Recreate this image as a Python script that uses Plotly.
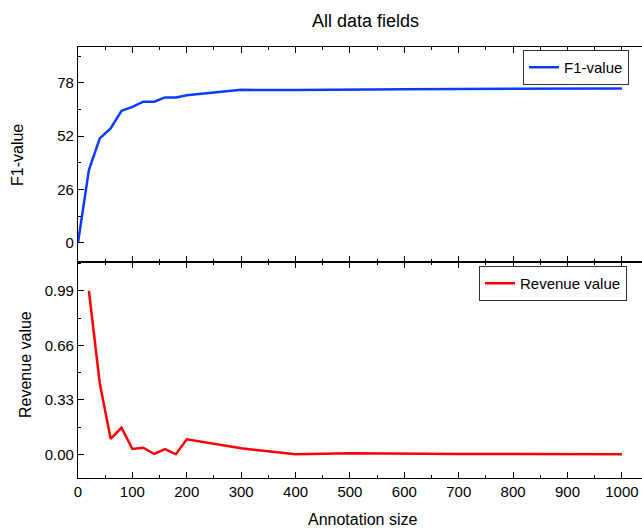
import plotly.graph_objects as go

# annotation sizes and results
f1_size = [0, 20, 40, 60, 80, 100, 120, 140, 160, 180, 200, 300, 400, 500, 600, 700, 800, 900, 1000]
f1_value = [0, 35.5, 50.9, 55.8, 64.4, 66.3, 68.8, 68.8, 70.9, 70.9, 72.0, 74.6, 74.5, 74.8, 74.9, 75.0, 75.2, 75.3, 75.3]

rev_size = [20, 40, 60, 80, 100, 120, 140, 160, 180, 200, 300, 400, 500, 600, 700, 800, 900, 1000]
rev_value = [0.99, 0.43, 0.094, 0.161, 0.032, 0.04, 0.002, 0.032, 0.0, 0.091, 0.036, 0.0, 0.007, 0.003, 0.002, 0.002, 0.001, 0.0]

x_ticks = list(range(0, 1001, 100))

W, H = 642, 528
font = "Arial, Liberation Sans, sans-serif"

fig = go.Figure()
fig.add_trace(go.Scatter(x=f1_size, y=f1_value, mode="lines", name="F1-value",
                         line=dict(color="#0a3cff", width=2.5),
                         xaxis="x", yaxis="y", legend="legend"))
fig.add_trace(go.Scatter(x=rev_size, y=rev_value, mode="lines", name="Revenue value",
                         line=dict(color="#ff0000", width=2.5),
                         xaxis="x2", yaxis="y2", legend="legend2"))

axis_common = dict(showline=True, linecolor="black", linewidth=1.3, ticks="inside",
                   ticklen=6, tickwidth=1.3, tickcolor="black", showgrid=False,
                   zeroline=False, automargin=False,
                   tickfont=dict(family=font, size=15, color="black"))

xdom = [78 / W, 1]
top_dom = [1 - 262 / H, 1 - 47 / H]
bot_dom = [1 - 478 / H, 1 - 262 / H]


def label(text, x, y, size, angle=0):
    return dict(text=text, x=x / W, y=1 - y / H, xref="paper", yref="paper",
                xanchor="center", yanchor="middle", showarrow=False,
                textangle=angle, font=dict(family=font, size=size))


fig.update_layout(
    width=W, height=H, autosize=False,
    margin=dict(l=0, r=0, t=0, b=0, pad=0),
    paper_bgcolor="white", plot_bgcolor="white",
    font=dict(family=font, color="black"),
    xaxis=dict(domain=xdom, anchor="y", range=[0, 1037], tickvals=x_ticks,
               showticklabels=False, mirror="ticks",
               minor=dict(ticks="inside", ticklen=3, dtick=50, tick0=0, tickcolor="black"),
               **axis_common),
    yaxis=dict(domain=top_dom, anchor="x", range=[-9.4, 95.5], tickmode="linear",
               tick0=0, dtick=26,
               minor=dict(ticks="inside", ticklen=3, dtick=13, tick0=0, tickcolor="black"),
               **axis_common),
    xaxis2=dict(domain=xdom, anchor="y2", range=[0, 1037], tickvals=x_ticks,
                mirror="ticks",
                minor=dict(ticks="inside", ticklen=3, dtick=50, tick0=0, tickcolor="black"),
                **axis_common),
    yaxis2=dict(domain=bot_dom, anchor="x2", range=[-0.1435, 1.164], tickmode="linear",
                tick0=0, dtick=0.33, tickformat=".2f",
                minor=dict(ticks="inside", ticklen=3, dtick=0.165, tick0=0, tickcolor="black"),
                **axis_common),
    legend=dict(x=629 / W, y=1 - 50 / H, xanchor="right", yanchor="top",
                bgcolor="white", bordercolor="#333", borderwidth=1,
                font=dict(family=font, size=15)),
    legend2=dict(x=627 / W, y=1 - 266 / H, xanchor="right", yanchor="top",
                 bgcolor="white", bordercolor="#333", borderwidth=1,
                 font=dict(family=font, size=15)),
    showlegend=True,
    annotations=[
        label("All data fields", 365, 21, 18),
        label("F1-value", 17, 155, 16, -90),
        label("Revenue value", 25, 365, 16, -90),
        label("Annotation size", 363, 519, 16),
    ],
)

# the page's default body margin would shift the figure by 8px
fig.write_html("out.html", config={"displayModeBar": False},
               post_script="document.body.style.margin='0';")
